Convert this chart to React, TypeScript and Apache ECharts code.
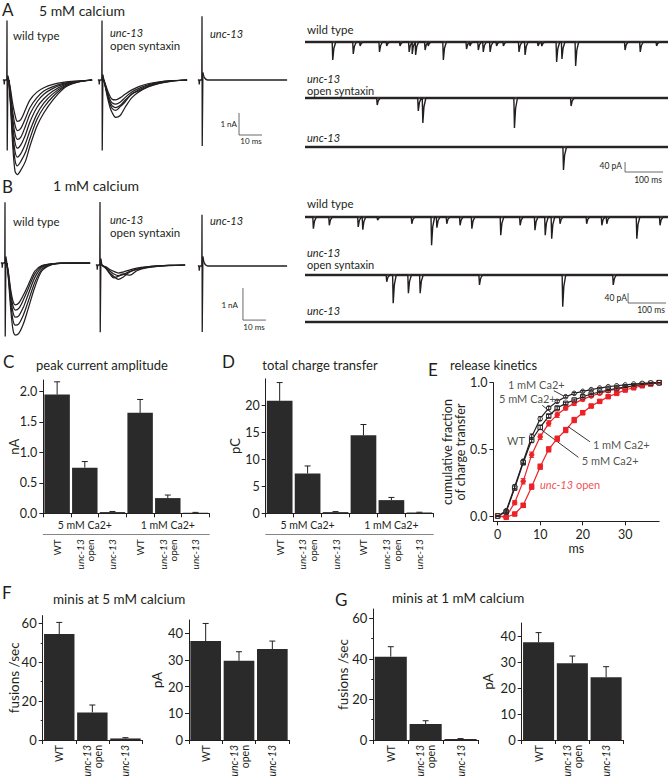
import React, { useEffect, useRef } from "react";
import * as echarts from "echarts";

const FONT = "Lato, 'Open Sans', 'DejaVu Sans', sans-serif";
const INK = "#231f20";
const RED = "#ec2227";
const BAR = "#2a2a2a";

// ---------- evoked currents (ms after stimulus, nA) ----------
const epscTime = [0.8, 1.5, 2.5, 3.5, 4.5, 6, 8, 10, 13, 16, 20, 25, 30, 37];
const wt5Traces = [
  [0, -0.4, -1.1, -1.6, -1.88, -1.8, -1.35, -0.9, -0.55, -0.35, -0.2, -0.1, -0.05, 0],
  [0, -0.55, -1.45, -2.05, -2.3, -2.2, -1.75, -1.25, -0.8, -0.5, -0.3, -0.14, -0.06, 0],
  [0, -0.65, -1.75, -2.45, -2.7, -2.6, -2.1, -1.55, -1.0, -0.65, -0.38, -0.18, -0.07, 0],
  [0, -0.75, -2.05, -2.85, -3.1, -2.95, -2.5, -1.9, -1.25, -0.85, -0.5, -0.22, -0.08, 0],
  [0, -0.85, -2.35, -3.25, -3.5, -3.35, -2.9, -2.3, -1.55, -1.05, -0.62, -0.27, -0.1, 0],
  [0, -0.95, -2.65, -3.65, -3.9, -3.7, -3.3, -2.65, -1.8, -1.25, -0.75, -0.31, -0.11, 0],
  [0, -1.1, -3.0, -4.15, -4.3, -4.1, -3.7, -3.0, -2.1, -1.5, -0.9, -0.35, -0.12, 0],
];
const os5Traces = [
  [0, -0.2, -0.5, -0.75, -0.88, -0.9, -0.8, -0.65, -0.45, -0.3, -0.17, -0.08, -0.03, 0],
  [0, -0.25, -0.6, -0.9, -1.05, -1.1, -1.0, -0.8, -0.55, -0.38, -0.22, -0.1, -0.04, 0],
  [0, -0.3, -0.7, -1.0, -1.18, -1.25, -1.15, -0.92, -0.65, -0.45, -0.26, -0.12, -0.05, 0],
  [0, -0.3, -0.75, -1.1, -1.3, -1.38, -1.2, -1.0, -0.62, -0.5, -0.3, -0.14, -0.05, 0],
  [0, -0.35, -0.85, -1.25, -1.5, -1.7, -1.6, -1.25, -0.8, -0.55, -0.32, -0.15, -0.06, 0],
];
const wt1Traces = [
  [0, -0.3, -0.85, -1.2, -1.31, -1.25, -1.0, -0.7, -0.25, -0.08, -0.03, 0, 0, 0],
  [0, -0.35, -0.95, -1.35, -1.47, -1.42, -1.15, -0.82, -0.33, -0.1, -0.03, 0, 0, 0],
  [0, -0.4, -1.1, -1.55, -1.69, -1.65, -1.38, -1.0, -0.45, -0.14, -0.04, 0, 0, 0],
  [0, -0.45, -1.25, -1.8, -1.94, -1.9, -1.62, -1.22, -0.6, -0.2, -0.05, -0.01, 0, 0],
  [0, -0.5, -1.45, -2.1, -2.25, -2.2, -1.9, -1.45, -0.75, -0.25, -0.06, -0.01, 0, 0],
];
const os1Traces = [
  [0, -0.03, -0.06, -0.1, -0.15, -0.2, -0.25, -0.22, -0.15, -0.1, -0.06, -0.03, -0.01, 0],
  [0, -0.04, -0.08, -0.14, -0.2, -0.28, -0.33, -0.3, -0.2, -0.13, -0.07, -0.03, -0.01, 0],
  [0, -0.05, -0.1, -0.18, -0.26, -0.36, -0.45, -0.38, -0.22, -0.14, -0.08, -0.04, -0.01, 0],
  [0, -0.04, -0.1, -0.2, -0.3, -0.4, -0.35, -0.28, -0.32, -0.18, -0.09, -0.04, -0.02, 0],
];
const artTime = [-1.8, -1.3, -1.2, -1.0, -0.1, 0, 0.1, 0.4, 0.8];
const artA_wt = [0, 0, -0.2, 0, 0, 2.7, -3.2, 0.2, 0];
const artA_os = [0, 0, -0.2, 0, 0, 2.7, -3.2, 0.25, 0];
const artA_unc = [0, 0, -0.2, 0, 0, 2.9, -3.0, 0.35, 0.15];
const artB_wt = [0, 0, -0.15, 0, 0, 1.9, -2.3, 0.2, 0];
const artB_os = [0, 0, -0.15, 0, 0, 1.97, -2.1, 0.2, 0];
const artB_unc = [0, 0, -0.15, 0, 0, 1.6, -2.06, 0.3, 0.12];
const uncTailTime = [0.8, 1.5, 2.5, 37];
const uncTailA = [0.15, 0.05, 0, 0];
const uncTailB = [0.12, 0.04, 0, 0];

// ---------- minis (event time ms, amplitude pA) ----------
const miniA_wtT = [73, 127, 145, 196, 215, 250, 274, 282, 291, 316, 324, 364, 425, 434, 456, 469, 487, 504, 522, 563, 579, 613, 623, 662, 676, 712, 842, 882, 925];
const miniA_wtA = [72, 48, 16, 40, 16, 16, 40, 48, 52, 32, 16, 72, 28, 16, 32, 40, 40, 16, 16, 40, 52, 16, 16, 80, 68, 96, 32, 40, 16];
const miniA_osT = [190, 298, 310, 551, 700];
const miniA_osA = [28, 52, 100, 120, 32];
const miniA_uncT = [680];
const miniA_uncA = [92];
const miniB_wtT = [22, 64, 140, 152, 191, 281, 333, 347, 373, 408, 439, 515, 566, 605, 632, 649, 671, 741, 781, 794, 873, 934];
const miniB_wtA = [47, 33, 40, 51, 13, 27, 113, 43, 27, 33, 47, 73, 33, 53, 73, 87, 27, 27, 33, 27, 87, 33];
const miniB_osT = [215, 232, 272, 303, 459, 678, 811];
const miniB_osA = [27, 113, 73, 73, 40, 127, 40];
const miniB_uncT: number[] = [];
const miniB_uncA: number[] = [];
const miniShapeDt = [-1.5, 0, 3, 8];
const miniShapeFrac = [0, 1, 0.35, 0];

// ---------- C / D ----------
const evokedCats = ["WT", "unc-13 open", "unc-13", "WT ", "unc-13 open ", "unc-13 "];
const groupCats = ["5 mM Ca2+", "1 mM Ca2+"];
const peakAmp = [1.95, 0.75, 0.02, 1.65, 0.25, 0.01];
const peakErr = [0.21, 0.1, 0.01, 0.22, 0.05, 0.005];
const charge = [20.9, 7.4, 0.22, 14.5, 2.45, 0.15];
const chargeErr = [3.4, 1.4, 0.1, 2.0, 0.5, 0.05];

// ---------- E ----------
const kinTime = [0, 2, 4, 6, 8, 10, 12, 14, 16, 18, 20, 22, 24, 26, 28, 30, 32, 34, 36, 38];
const kinWT1 = [0, 0.04, 0.22, 0.41, 0.595, 0.73, 0.81, 0.86, 0.895, 0.92, 0.935, 0.948, 0.96, 0.97, 0.977, 0.983, 0.99, 0.995, 0.998, 1.0];
const kinWT5 = [0, 0.03, 0.21, 0.4, 0.57, 0.665, 0.75, 0.81, 0.845, 0.87, 0.895, 0.915, 0.93, 0.945, 0.957, 0.967, 0.977, 0.988, 0.995, 1.0];
const kinOS5 = [0, -0.005, 0.1, 0.26, 0.46, 0.595, 0.695, 0.76, 0.81, 0.845, 0.875, 0.9, 0.92, 0.94, 0.952, 0.963, 0.975, 0.987, 0.995, 1.0];
const kinOS1 = [0, -0.01, 0.015, 0.08, 0.22, 0.37, 0.5, 0.58, 0.645, 0.72, 0.775, 0.825, 0.86, 0.895, 0.92, 0.945, 0.962, 0.977, 0.99, 1.0];
const kinErrWT = [0, 0.01, 0.015, 0.015, 0.02, 0.015, 0.012, 0.01, 0.008, 0.007, 0.006, 0.005, 0.005, 0.004, 0.004, 0.003, 0.003, 0.002, 0.002, 0];
const kinErrOS5 = [0, 0.005, 0.015, 0.02, 0.02, 0.02, 0.02, 0.02, 0.015, 0.015, 0.012, 0.01, 0.01, 0.008, 0.006, 0.005, 0.004, 0.003, 0.002, 0];
const kinErrOS1 = [0, 0.005, 0.01, 0.015, 0.02, 0.02, 0.02, 0.02, 0.02, 0.02, 0.015, 0.012, 0.01, 0.01, 0.008, 0.006, 0.005, 0.004, 0.002, 0];

// ---------- F / G ----------
const miniCats = ["WT", "unc-13 open", "unc-13"];
const freq5 = [54.5, 14.2, 0.8];
const freq5Err = [6, 3.8, 0.4];
const amp5 = [37.1, 29.7, 34.1];
const amp5Err = [6.6, 3.4, 3.0];
const freq1 = [41.1, 7.9, 0.5];
const freq1Err = [4.9, 1.6, 0.2];
const amp1 = [37.6, 29.5, 24.1];
const amp1Err = [3.7, 2.8, 4.1];

const zip = (xs: number[], ys: number[]) => xs.map((x, i) => [x, ys[i]]);

function miniData(times: number[], amps: number[], end: number) {
  const pts: number[][] = [[0, 0]];
  const order = times.map((_, i) => i).sort((a, b) => times[a] - times[b]);
  for (const i of order) {
    miniShapeDt.forEach((dt, k) => pts.push([times[i] + dt, -amps[i] * miniShapeFrac[k]]));
  }
  pts.push([end, 0]);
  return pts;
}

const catLabel = (v: string) => {
  const k = v.trim();
  if (k === "WT") return "WT";
  if (k === "unc-13 open") return "{i|unc-13}\n{n|open}";
  return "{i|unc-13}";
};

function buildOption() {
  const grids: any[] = [];
  const xAxis: any[] = [];
  const yAxis: any[] = [];
  const series: any[] = [];

  const addGrid = (left: number, top: number, width: number, height: number) => {
    grids.push({ left, top, width, height, containLabel: false, outerBoundsMode: "none" });
    return grids.length - 1;
  };
  const hiddenPanel = (left: number, top: number, width: number, height: number, xr: number[], yr: number[]) => {
    const g = addGrid(left, top, width, height);
    xAxis.push({ type: "value", gridIndex: g, min: xr[0], max: xr[1], show: false });
    yAxis.push({ type: "value", gridIndex: g, min: yr[0], max: yr[1], show: false });
    return { x: xAxis.length - 1, y: yAxis.length - 1 };
  };
  const line = (ax: any, data: any[], color = INK, width = 1.1, extra: any = {}) =>
    series.push({
      type: "line", xAxisIndex: ax.x, yAxisIndex: ax.y, data, symbol: "none", silent: true,
      lineStyle: { color, width }, ...extra,
    });
  const errorBars = (ax: any, xs: number[], vals: number[], errs: number[], color: string, cap: number, both: boolean) =>
    series.push({
      type: "custom", xAxisIndex: ax.x, yAxisIndex: ax.y, silent: true, z: 5,
      data: vals.map((v, i) => [xs[i], v, errs[i]]),
      renderItem: (_p: any, api: any) => {
        const x = api.value(0), v = api.value(1), e = api.value(2);
        const top = api.coord([x, v + e]);
        const bot = api.coord([x, both ? v - e : v]);
        const st = { stroke: color, lineWidth: 1 };
        const ch: any[] = [
          { type: "line", shape: { x1: top[0], y1: top[1], x2: bot[0], y2: bot[1] }, style: st },
          { type: "line", shape: { x1: top[0] - cap, y1: top[1], x2: top[0] + cap, y2: top[1] }, style: st },
        ];
        if (both) ch.push({ type: "line", shape: { x1: bot[0] - cap, y1: bot[1], x2: bot[0] + cap, y2: bot[1] }, style: st });
        return { type: "group", children: ch };
      },
    });

  // ----- EPSC panels -----
  const epscPanels = [
    { left: 2.4, top: 16.2, h: 162.8, yr: [-4.5, 2.9], art: artA_wt, traces: wt5Traces, tail: null },
    { left: 97.4, top: 16.2, h: 162.8, yr: [-4.5, 2.9], art: artA_os, traces: os5Traces, tail: null },
    { left: 197.4, top: 16.2, h: 162.8, yr: [-4.5, 2.9], art: artA_unc, traces: [], tail: uncTailA, bar: [16.1, -2.5] },
    { left: 0.4, top: 195.8, h: 144, yr: [-2.4, 2.1], art: artB_wt, traces: wt1Traces, tail: null },
    { left: 95.4, top: 197.8, h: 144, yr: [-2.4, 2.1], art: artB_os, traces: os1Traces, tail: null },
    { left: 197.4, top: 198.8, h: 144, yr: [-2.4, 2.1], art: artB_unc, traces: [], tail: uncTailB, bar: [17.8, -1.69] },
  ];
  epscPanels.forEach((p: any) => {
    const ax = hiddenPanel(p.left, p.top, 92, p.h, [-2, 38], p.yr);
    line(ax, zip(artTime, p.art), INK, 1.3);
    p.traces.forEach((tr: number[]) => line(ax, zip(epscTime, tr), INK, 1.25, { smooth: 0.3 }));
    if (p.tail) line(ax, zip(uncTailTime, p.tail), INK, 1.4, { smooth: 0.3 });
    if (p.bar) {
      const [t, i] = p.bar;
      line(ax, [[t, i + 1], [t, i], [t + 10, i]], "#444", 0.8);
    }
  });

  // ----- mini traces -----
  const miniPanels = [
    { base: 42, t: miniA_wtT, a: miniA_wtA },
    { base: 98, t: miniA_osT, a: miniA_osA },
    { base: 147, t: miniA_uncT, a: miniA_uncA, bar: [842, -100] },
    { base: 217, t: miniB_wtT, a: miniB_wtA },
    { base: 275, t: miniB_osT, a: miniB_osA, bar: [850, -112] },
    { base: 322, t: miniB_uncT, a: miniB_uncA },
  ];
  miniPanels.forEach((p: any) => {
    const ax = hiddenPanel(305, p.base - 6.25, 363, 38.75, [0, 955], [-130, 25]);
    line(ax, [[0, 0], [955, 0]], "#3a3738", 2.6);
    line(ax, miniData(p.t, p.a, 955), INK, 1.4);
    if (p.bar) {
      const [t, i] = p.bar;
      line(ax, [[t, i + 40], [t, i], [t + 100, i]], "#444", 0.8);
    }
  });

  const tickStyle = { lineStyle: { color: INK, width: 1 } };
  const labelBase = { fontFamily: FONT, color: INK };
  const richCat = (size: number) => ({
    i: { fontStyle: "italic", fontSize: size, fontFamily: FONT, color: INK, lineHeight: size + 0.5 },
    n: { fontSize: size, fontFamily: FONT, color: INK, lineHeight: size + 0.5 },
  });
  const catAxis = (g: number, data: string[], margin: number, size: number) => ({
    type: "category", gridIndex: g, data, position: "bottom",
    axisLine: { show: true, lineStyle: { color: INK, width: 1 } },
    axisTick: { show: true, length: 4, ...tickStyle },
    axisLabel: {
      interval: 0, rotate: 90, margin, fontSize: size, ...labelBase,
      formatter: (v: string) => catLabel(v), rich: richCat(size),
    },
    splitLine: { show: false },
  });
  const groupAxis = (g: number) => ({
    type: "category", gridIndex: g, data: groupCats, position: "bottom", offset: 20.7,
    axisLine: { show: true, lineStyle: { color: "#666", width: 0.8 } },
    axisTick: { show: false },
    axisLabel: { inside: true, margin: 4, fontSize: 10.5, ...labelBase },
    splitLine: { show: false },
  });
  const valAxis = (g: number, min: number, max: number, ticks: number[], fmt: (v: number) => string, name: string, gap: number, size: number) => ({
    type: "value", gridIndex: g, min, max, position: "left",
    axisLine: { show: true, lineStyle: { color: INK, width: 1 } },
    axisTick: { show: true, length: 4, customValues: ticks, ...tickStyle },
    axisLabel: { customValues: ticks, formatter: fmt, margin: 6, fontSize: size, ...labelBase },
    splitLine: { show: false },
    name, nameLocation: "middle", nameGap: gap, nameMoveOverlap: false,
    nameTextStyle: { fontSize: size + 0.5, ...labelBase },
  });
  const minorAxis = (g: number, min: number, max: number, ticks: number[]) => ({
    type: "value", gridIndex: g, min, max, position: "left",
    axisLine: { show: false }, axisLabel: { show: false }, splitLine: { show: false },
    axisTick: { show: true, length: 2, customValues: ticks, ...tickStyle },
  });
  const bars = (ax: any, vals: number[]) =>
    series.push({
      type: "bar", xAxisIndex: ax.x, yAxisIndex: ax.y, data: vals, barCategoryGap: "8%",
      itemStyle: { color: BAR }, silent: true,
    });
  const idx = (n: number) => Array.from({ length: n }, (_, i) => i);

  // ----- C -----
  {
    const g = addGrid(43.3, 380, 166, 133.3);
    xAxis.push(catAxis(g, evokedCats, 26, 10));
    const x = xAxis.length - 1;
    xAxis.push(groupAxis(g));
    yAxis.push(valAxis(g, 0, 2.19, [0, 0.5, 1, 1.5, 2], (v) => v.toFixed(1), "nA", 23, 12.5));
    const ax = { x, y: yAxis.length - 1 };
    bars(ax, peakAmp);
    errorBars(ax, idx(6), peakAmp, peakErr, INK, 3, false);
  }
  // ----- D -----
  {
    const g = addGrid(265.7, 378.8, 167.6, 134.5);
    xAxis.push(catAxis(g, evokedCats, 26, 10));
    const x = xAxis.length - 1;
    xAxis.push(groupAxis(g));
    yAxis.push(valAxis(g, 0, 25, [0, 5, 10, 15, 20], (v) => String(v), "pC", 24, 12.5));
    const ax = { x, y: yAxis.length - 1 };
    bars(ax, charge);
    errorBars(ax, idx(6), charge, chargeErr, INK, 3, false);
  }
  // ----- E -----
  {
    const g = addGrid(493.45, 382.7, 165.75, 138.65);
    xAxis.push({
      type: "value", gridIndex: g, min: -1, max: 38,
      axisLine: { show: true, onZero: false, lineStyle: { color: INK, width: 1 } },
      axisTick: { show: true, length: 4, customValues: [0, 10, 20, 30], ...tickStyle },
      axisLabel: { customValues: [0, 10, 20, 30], margin: 7, fontSize: 12.5, ...labelBase },
      splitLine: { show: false },
      name: "ms", nameLocation: "middle", nameGap: 21, nameMoveOverlap: false,
      nameTextStyle: { fontSize: 12.5, ...labelBase },
    });
    yAxis.push({
      type: "value", gridIndex: g, min: -0.04, max: 1.0,
      axisLine: { show: true, onZero: false, lineStyle: { color: INK, width: 1 } },
      axisTick: { show: true, length: 4, customValues: [0, 0.5, 1], ...tickStyle },
      axisLabel: { customValues: [0, 0.5, 1], formatter: (v: number) => v.toFixed(1), margin: 6, fontSize: 12.5, ...labelBase },
      splitLine: { show: false },
      name: "cumulative fraction\nof charge transfer", nameLocation: "middle", nameGap: 26, nameMoveOverlap: false,
      nameTextStyle: { fontSize: 12.5, lineHeight: 13, ...labelBase },
    });
    const ax = { x: xAxis.length - 1, y: yAxis.length - 1 };
    const kin = (vals: number[], color: string, symbol: string, fill: string) =>
      line(ax, zip(kinTime, vals), color, 1.2, {
        symbol, symbolSize: 4.5, showSymbol: true,
        itemStyle: { color: fill, borderColor: color, borderWidth: 1 },
      });
    kin(kinOS1, RED, "rect", RED);
    errorBars(ax, kinTime, kinOS1, kinErrOS1, RED, 2.5, true);
    kin(kinOS5, RED, "circle", RED);
    errorBars(ax, kinTime, kinOS5, kinErrOS5, RED, 2.5, true);
    kin(kinWT5, INK, "rect", "#ffffff");
    errorBars(ax, kinTime, kinWT5, kinErrWT, INK, 2, true);
    kin(kinWT1, INK, "circle", "#ffffff");
    errorBars(ax, kinTime, kinWT1, kinErrWT, INK, 2, true);
    // leader lines
    line(ax, [[13.2, 0.94], [16.4, 0.885]], INK, 0.9);
    line(ax, [[10.5, 0.83], [13, 0.765]], INK, 0.9);
    line(ax, [[21.7, 0.557], [16.6, 0.67]], INK, 0.9);
    line(ax, [[19.0, 0.44], [10.35, 0.645]], INK, 0.9);
    const notes = [
      { v: [2.4, 0.983], t: "1 mM Ca2+", c: INK },
      { v: [0.3, 0.878], t: "5 mM Ca2+", c: INK },
      { v: [2.2, 0.57], t: "WT", c: INK },
      { v: [22.4, 0.54], t: "1 mM Ca2+", c: INK },
      { v: [19.8, 0.42], t: "5 mM Ca2+", c: INK },
      { v: [9.95, 0.233], t: "{ri|unc-13}{r| open}", c: RED },
    ];
    series.push({
      type: "scatter", xAxisIndex: ax.x, yAxisIndex: ax.y, symbolSize: 0, silent: true, z: 6,
      itemStyle: { color: "transparent" },
      data: notes.map((n) => ({ value: n.v, label: { formatter: n.t, color: n.c } })),
      label: {
        show: true, position: "right", distance: 0, fontSize: 11, fontFamily: FONT, color: INK,
        rich: {
          ri: { fontStyle: "italic", fontSize: 11, fontFamily: FONT, color: RED },
          r: { fontSize: 11, fontFamily: FONT, color: RED },
        },
      },
    });
  }
  // ----- F / G -----
  const miniBarPanel = (left: number, top: number, width: number, height: number, max: number,
    ticks: number[], minor: number[] | null, name: string, gap: number, vals: number[], errs: number[]) => {
    const g = addGrid(left, top, width, height);
    xAxis.push(catAxis(g, miniCats, 5, 10.5));
    const x = xAxis.length - 1;
    yAxis.push(valAxis(g, 0, max, ticks, (v) => String(v), name, gap, 13));
    const y = yAxis.length - 1;
    if (minor) yAxis.push(minorAxis(g, 0, max, minor));
    const ax = { x, y };
    bars(ax, vals);
    errorBars(ax, idx(3), vals, errs, INK, 3, false);
  };
  miniBarPanel(42.7, 615.6, 99.3, 124.4, 64, [0, 20, 40, 60], [10, 30, 50], "fusions /sec", 22, freq5, freq5Err);
  miniBarPanel(189, 620, 100, 120, 45, [0, 10, 20, 30, 40], null, "pA", 25, amp5, amp5Err);
  miniBarPanel(373.3, 609, 104.7, 131, 64.6, [0, 20, 40, 60], [10, 30, 50], "fusions /sec", 23, freq1, freq1Err);
  miniBarPanel(521.7, 623, 101.3, 117, 45, [0, 10, 20, 30, 40], null, "pA", 27, amp1, amp1Err);

  // ----- texts -----
  const T = (text: string, x: number, y: number, size: number, extra: any = {}) => ({
    type: "text", x, y, silent: true,
    style: { text, fontSize: size, fontFamily: FONT, fill: INK, align: "left", verticalAlign: "middle", ...extra },
  });
  const I = (text: string, x: number, y: number, size: number) => T(text, x, y, size, { fontStyle: "italic" });
  const texts = [
    T("A", 2, 9, 17), T("5 mM calcium", 39, 10, 14),
    T("wild type", 13, 35, 11.5), I("unc-13", 110, 32, 11), T("open syntaxin", 110, 45, 11.5), I("unc-13", 210, 33, 11),
    T("1 nA", 237, 124, 8, { align: "right" }), T("10 ms", 251, 141, 8, { align: "center" }),
    T("wild type", 307, 29, 11.5), I("unc-13", 307, 78.5, 11), T("open syntaxin", 307, 90, 11), I("unc-13", 307, 137, 11),
    T("40 pA", 622, 166, 8.5, { align: "right" }), T("100 ms", 648, 180, 8.5, { align: "center" }),
    T("B", 2, 186, 17), T("1 mM calcium", 53, 185, 14),
    T("wild type", 13, 221, 11.5), I("unc-13", 110, 219, 11), T("open syntaxin", 110, 232, 11.5), I("unc-13", 210, 220, 11),
    T("1 nA", 238, 305, 8, { align: "right" }), T("10 ms", 254, 327, 8, { align: "center" }),
    T("wild type", 307, 203, 11.5), I("unc-13", 307, 252.5, 11), T("open syntaxin", 307, 264, 11), I("unc-13", 307, 310, 11),
    T("40 pA", 627, 298, 8.5, { align: "right" }), T("100 ms", 651, 310, 8.5, { align: "center" }),
    T("C", 3, 361, 17), T("peak current amplitude", 102, 365, 13, { align: "center" }),
    T("D", 222, 361, 17), T("total charge transfer", 320, 365, 13, { align: "center" }),
    T("E", 428, 369, 17), T("release kinetics", 450, 365, 13),
    T("F", 2, 592, 17), T("minis at 5 mM calcium", 53, 599, 13.5),
    T("G", 335, 599, 17), T("minis at 1 mM calcium", 392, 598, 13.5),
  ];

  return {
    animation: false,
    backgroundColor: "#ffffff",
    grid: grids,
    xAxis,
    yAxis,
    series,
    graphic: { elements: texts },
  };
}

export default function App() {
  const ref = useRef<HTMLDivElement>(null);
  useEffect(() => {
    const chart = echarts.init(ref.current as HTMLDivElement, null, { renderer: "svg" });
    chart.setOption(buildOption() as any);
    return () => chart.dispose();
  }, []);
  return (
    <div
      ref={ref}
      style={{ position: "absolute", left: 0, top: 0, width: 669, height: 778, background: "#fff" }}
    />
  );
}
